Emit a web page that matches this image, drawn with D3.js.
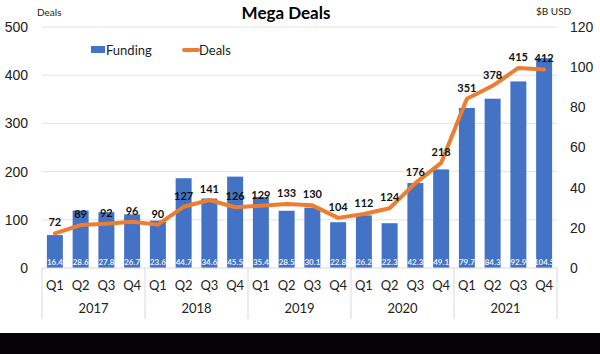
<!DOCTYPE html>
<html>
<head>
<meta charset="utf-8">
<script src="https://cdn.jsdelivr.net/npm/d3@7"></script>
<style>
    body { margin: 0; background: #fff; }
    svg { display: block; font-family: Lato, "Open Sans", sans-serif; }
</style>
</head>
<body>
<svg id="drawing_region"></svg>
<script>
const years    = ['2017', '2018', '2019', '2020', '2021'];
const quarters = ['Q1', 'Q2', 'Q3', 'Q4'];
const funding  = [16.4, 28.6, 27.8, 26.7, 23.6, 44.7, 34.6, 45.5, 35.4, 28.5,
                  30.1, 22.8, 26.2, 22.3, 42.3, 49.1, 79.7, 84.3, 92.9, 104.5];
const deals    = [72, 89, 92, 96, 90, 127, 141, 126, 129, 133,
                  130, 104, 112, 124, 176, 218, 351, 378, 415, 412];
const leftTicks  = [0, 100, 200, 300, 400, 500];
const rightTicks = [0, 20, 40, 60, 80, 100, 120];

const data = funding.map((f, i) => ({
    key: i,
    year: years[Math.floor(i / 4)],
    q: quarters[i % 4],
    funding: f,
    deals: deals[i]
}));

draw(data);

function draw(data) {

    const width  = 600;
    const height = 354;
    const margin = { top: 27, right: 43, bottom: 86, left: 42 };

    const svg = d3.select('#drawing_region')
        .attr('width', width)
        .attr('height', height);

    const inner_width  = width  - margin.left - margin.right;
    const inner_height = height - margin.top  - margin.bottom;

    const chart = svg.append('g')
        .attr('transform', `translate(${margin.left}, ${margin.top})`);

    const xscale = d3.scaleBand()
        .domain(data.map(d => d.key))
        .range([0, inner_width])
        .paddingInner(0.38)
        .paddingOuter(0.19);

    const yleft = d3.scaleLinear()
        .domain([0, 500])
        .range([inner_height, 0]);

    const yright = d3.scaleLinear()
        .domain([0, 120])
        .range([inner_height, 0]);

    // gridlines
    chart.append('g')
        .selectAll('line')
        .data(leftTicks.slice(1))
        .enter()
        .append('line')
        .attr('x1', 0)
        .attr('x2', inner_width)
        .attr('y1', d => yleft(d))
        .attr('y2', d => yleft(d))
        .attr('stroke', '#e4e4e4')
        .attr('stroke-width', 1);

    // left axis
    const la = chart.append('g')
        .call(d3.axisLeft(yleft).tickValues(leftTicks).tickSize(0).tickPadding(14));
    la.select('.domain').remove();
    la.selectAll('text').attr('font-size', '14px').attr('fill', '#222');

    // right axis
    const ra = chart.append('g')
        .attr('transform', `translate(${inner_width}, 0)`)
        .call(d3.axisRight(yright).tickValues(rightTicks).tickSize(0).tickPadding(13));
    ra.select('.domain').remove();
    ra.selectAll('text').attr('font-size', '14px').attr('fill', '#222');

    // bars
    chart.selectAll('rect.bar')
        .data(data)
        .enter()
        .append('rect')
        .attr('class', 'bar')
        .attr('x', d => xscale(d.key))
        .attr('y', d => yright(d.funding))
        .attr('width', xscale.bandwidth())
        .attr('height', d => inner_height - yright(d.funding))
        .attr('fill', '#4472c4');

    // funding labels
    chart.selectAll('text.flab')
        .data(data)
        .enter()
        .append('text')
        .attr('class', 'flab')
        .attr('x', d => xscale(d.key) + xscale.bandwidth() / 2)
        .attr('y', inner_height - 3)
        .attr('text-anchor', 'middle')
        .attr('font-size', '8px')
        .attr('font-weight', 'bold')
        .attr('fill', '#e8eefa')
        .text(d => d.funding.toFixed(1));

    // deals line
    const line = d3.line()
        .x(d => xscale(d.key) + xscale.bandwidth() / 2)
        .y(d => yleft(d.deals));

    chart.append('path')
        .datum(data)
        .attr('d', line)
        .attr('fill', 'none')
        .attr('stroke', '#ed7d31')
        .attr('stroke-width', 4)
        .attr('stroke-linejoin', 'round')
        .attr('stroke-linecap', 'round');

    // deals labels
    chart.selectAll('text.dlab')
        .data(data)
        .enter()
        .append('text')
        .attr('class', 'dlab')
        .attr('x', d => xscale(d.key) + xscale.bandwidth() / 2)
        .attr('y', d => yleft(d.deals) - 7)
        .attr('text-anchor', 'middle')
        .attr('font-size', '11px')
        .attr('font-weight', 'bold')
        .attr('fill', '#111')
        .text(d => d.deals);

    // category axis
    const cat = chart.append('g')
        .attr('transform', `translate(0, ${inner_height})`);

    cat.append('line')
        .attr('x1', 0).attr('x2', inner_width)
        .attr('y1', 0).attr('y2', 0)
        .attr('stroke', '#d9d9d9');

    cat.selectAll('text.q')
        .data(data)
        .enter()
        .append('text')
        .attr('class', 'q')
        .attr('x', d => xscale(d.key) + xscale.bandwidth() / 2)
        .attr('y', 22)
        .attr('text-anchor', 'middle')
        .attr('font-size', '13px')
        .attr('fill', '#222')
        .text(d => d.q);

    const yw = inner_width / years.length;

    cat.selectAll('line.sep')
        .data(d3.range(years.length + 1))
        .enter()
        .append('line')
        .attr('class', 'sep')
        .attr('x1', i => i * yw)
        .attr('x2', i => i * yw)
        .attr('y1', 0)
        .attr('y2', 51)
        .attr('stroke', '#d9d9d9');

    cat.selectAll('text.yr')
        .data(years)
        .enter()
        .append('text')
        .attr('class', 'yr')
        .attr('x', (d, i) => (i + 0.5) * yw)
        .attr('y', 45)
        .attr('text-anchor', 'middle')
        .attr('font-size', '13px')
        .attr('fill', '#222')
        .text(d => d);

    // black band at bottom
    svg.append('rect')
        .attr('x', 0)
        .attr('y', 333)
        .attr('width', width)
        .attr('height', height - 333)
        .attr('fill', '#050308');

    // title
    svg.append('text')
        .attr('x', 286)
        .attr('y', 19)
        .attr('text-anchor', 'middle')
        .attr('font-size', '17px')
        .attr('font-weight', 'bold')
        .text('Mega Deals');

    svg.append('text')
        .attr('x', 37)
        .attr('y', 16)
        .attr('font-size', '10px')
        .attr('fill', '#222')
        .text('Deals');

    svg.append('text')
        .attr('x', 536)
        .attr('y', 15)
        .attr('font-size', '10px')
        .attr('fill', '#222')
        .text('$B USD');

    // legend
    const legend = svg.append('g');
    legend.append('rect')
        .attr('x', 91).attr('y', 46)
        .attr('width', 14).attr('height', 7)
        .attr('fill', '#4472c4');
    legend.append('text')
        .attr('x', 106).attr('y', 55)
        .attr('font-size', '13px')
        .attr('fill', '#222')
        .text('Funding');
    legend.append('line')
        .attr('x1', 184).attr('x2', 198)
        .attr('y1', 50).attr('y2', 50)
        .attr('stroke', '#ed7d31')
        .attr('stroke-width', 4)
        .attr('stroke-linecap', 'round');
    legend.append('text')
        .attr('x', 199).attr('y', 55)
        .attr('font-size', '13px')
        .attr('fill', '#222')
        .text('Deals');
}
</script>
</body>
</html>
